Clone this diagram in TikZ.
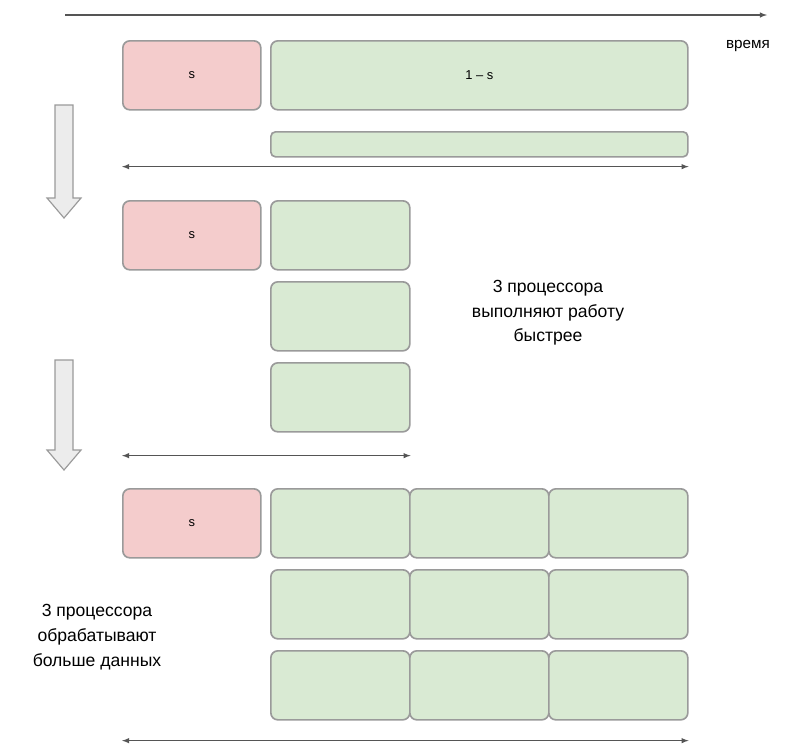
\documentclass[tikz,border=0pt]{standalone}
\usepackage{fontspec}
\setmainfont{Liberation Sans}
\usetikzlibrary{positioning,calc,arrows}

\definecolor{serial}{HTML}{F4CCCC}
\definecolor{para}{HTML}{D9EAD3}
\definecolor{edge}{HTML}{9A9A9A}
\definecolor{dim}{HTML}{555555}

\begin{document}
\begin{tikzpicture}[x=0.03cm,y=-0.03cm,
  blk/.style={draw=edge, line width=1.4pt, rounded corners=6pt, inner sep=0pt, anchor=north west, minimum height=2.07cm, font=\fontsize{11}{13}\selectfont},
  sbox/.style={blk, fill=serial, minimum width=4.14cm},
  pbox/.style={blk, fill=para, minimum width=4.17cm},
  dimline/.style={draw=dim, line width=1.1pt, latex-latex},
  down/.style={draw=edge, line width=1pt, fill=gray!15},
  note/.style={align=center, font=\fontsize{15}{21}\selectfont, text=black}]

\useasboundingbox (0,0) rectangle (787,747);

% time axis
\coordinate (t0) at (65,15);
\coordinate (t1) at (767,15);
\draw[draw=dim, line width=1.1pt, -latex] (t0) -- (t1);
\node[anchor=west, font=\fontsize{13}{15}\selectfont] (time) at (722,46) {время};

% one processor
\node[sbox] (s1) at (122,40) {s};
\node[pbox, minimum width=12.51cm] (p1) at (270,40) {1 – s};
\node[pbox, minimum width=12.51cm, minimum height=0.75cm, rounded corners=4pt] (q1) at (270,131) {};
\coordinate (d1a) at ($(s1.west |- q1.south)+(0,9)$);
\coordinate (d1b) at ($(q1.south east)+(0,9)$);
\draw[dimline] (d1a) -- (d1b);

% three processors, same work
\node[sbox] (s2) at (122,200) {s};
\foreach \r/\y in {1/200, 2/281, 3/362}
  \node[pbox] (p2-\r) at (270,\y) {};
\coordinate (d2a) at ($(s2.west |- p2-3.south)+(0,23)$);
\coordinate (d2b) at ($(p2-3.south east)+(0,23)$);
\draw[dimline] (d2a) -- (d2b);
\node[note] (fast) at (548,313) {3 процессора\\выполняют работу\\быстрее};

% three processors, more data
\node[sbox] (s3) at (122,488) {s};
\foreach \r/\y in {1/488, 2/569, 3/650}
  \foreach \c/\x in {1/270, 2/409, 3/548}
    \node[pbox] (p3-\r-\c) at (\x,\y) {};
\coordinate (d3a) at ($(s3.west |- p3-3-3.south)+(0,20)$);
\coordinate (d3b) at ($(p3-3-3.south east)+(0,20)$);
\draw[dimline] (d3a) -- (d3b);
\node[note] (more) at (97,637) {3 процессора\\обрабатывают\\больше данных};

% step arrows
\foreach \top/\bot in {105/218, 360/470}
  \draw[down] (55,\top) -- (73,\top) -- (73,\bot-20) -- (81,\bot-20)
    -- (64,\bot) -- (47,\bot-20) -- (55,\bot-20) -- cycle;

\end{tikzpicture}
\end{document}
